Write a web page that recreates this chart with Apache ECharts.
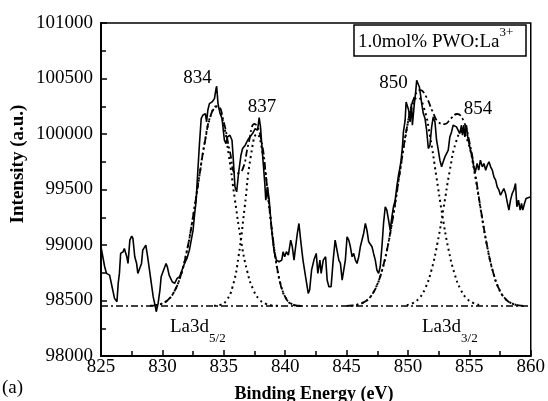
<!DOCTYPE html>
<html><head><meta charset="utf-8">
<script src="https://cdn.jsdelivr.net/npm/echarts@6/dist/echarts.min.js"></script>
<style>html,body{margin:0;padding:0;background:#fff}#c{width:548px;height:401px}</style>
</head><body><div id="c"></div><script>
// ---- data ----
const xTicks = [825, 830, 835, 840, 845, 850, 855, 860];
const yTicks = [98000, 98500, 99000, 99500, 100000, 100500, 101000];
const baselineEnergy = [825, 860];
const baselineIntensity = [98450, 98450];

const rawEnergy = [825.0,825.3,825.45,825.7,825.9,826.1,826.3,826.4,826.5,826.6,826.8,826.9,827.1,827.2,827.35,827.5,827.6,827.75,827.9,828.0,828.15,828.3,828.4,828.65,828.8,828.95,829.1,829.25,829.4,829.5,829.65,829.8,829.9,830.1,830.3,830.4,830.55,830.65,830.8,831.0,831.2,831.4,831.6,831.8,832.0,832.2,832.35,832.5,832.6,832.75,832.85,833.02,833.16,833.29,833.5,833.6,833.7,833.83,834.05,834.24,834.37,834.42,834.53,834.7,834.86,835.05,835.18,835.3,835.5,835.67,835.78,835.91,836.05,836.2,836.4,836.53,836.75,836.94,837.13,837.34,837.56,837.75,837.88,837.99,838.15,838.34,838.42,838.56,838.7,838.83,838.96,839.1,839.29,839.5,839.72,839.83,839.96,840.1,840.26,840.45,840.58,840.72,840.85,840.99,841.12,841.26,841.45,841.66,841.88,841.99,842.15,842.34,842.53,842.66,842.83,842.93,843.1,843.29,843.42,843.56,843.74,843.91,844.07,844.23,844.37,844.5,844.64,844.77,844.9,845.04,845.18,845.31,845.45,845.58,845.72,845.85,845.99,846.12,846.26,846.39,846.53,846.66,846.8,846.93,847.07,847.2,847.34,847.47,847.61,847.74,847.88,848.01,848.15,848.28,848.42,848.55,848.69,848.82,848.96,849.09,849.23,849.36,849.44,849.55,849.63,849.77,849.85,849.96,850.06,850.17,850.28,850.36,850.44,850.52,850.63,850.71,850.82,850.93,851.01,851.12,851.25,851.39,851.52,851.66,851.79,851.93,852.06,852.2,852.33,852.47,852.6,852.74,852.87,853.01,853.14,853.28,853.41,853.55,853.68,853.82,853.95,854.09,854.22,854.36,854.44,854.55,854.63,854.76,854.87,854.98,855.09,855.25,855.36,855.49,855.63,855.76,855.9,856.06,856.19,856.33,856.46,856.6,856.73,856.87,857.0,857.14,857.27,857.41,857.54,857.68,857.81,857.95,858.08,858.22,858.35,858.49,858.62,858.76,858.87,859.0,859.14,859.25,859.35,859.49,859.62,859.76,860.0];
const rawIntensity = [98984,98804,98744,98729,98624,98519,98489,98654,98744,98924,98939,98969,98894,98834,99044,99080,99059,98894,98834,98744,98744,98834,98954,98999,98894,98774,98654,98534,98459,98399,98474,98594,98714,98774,98834,98804,98729,98744,98669,98654,98699,98714,98774,98834,98879,98954,99044,99134,99254,99404,99600,99914,100139,100169,100184,100109,100214,100274,100289,100319,100409,100430,100274,100184,100139,99944,99914,99974,99989,99944,99764,99524,99479,99644,99809,99869,99899,99944,99974,100004,100049,100034,100148,100064,99824,99554,99404,99524,99404,99224,99074,98939,98864,98849,98864,98939,98894,98939,98909,99044,98984,98864,98984,99104,99194,99044,98864,98714,98564,98594,98774,98864,98924,98744,98864,98744,98864,98894,98684,98624,98624,98864,99044,99029,98864,98834,98684,98684,98864,99074,99044,98984,98894,98924,98864,98834,98894,98984,98984,99104,99194,99134,99029,99014,98984,98924,98864,98774,98744,98804,98984,99194,99344,99314,99224,99134,99254,99344,99404,99524,99629,99704,99764,99884,100019,100124,100289,100304,100214,100109,100274,100079,100094,100274,100379,100484,100499,100424,100364,100274,100184,100139,100034,99869,99899,100064,100154,100109,99944,99854,99764,99704,99749,99794,99809,99854,99974,100019,100079,100079,100064,100049,100004,100079,99989,100079,99974,100079,99974,99914,99854,99779,99704,99659,99734,99674,99764,99704,99734,99674,99719,99749,99704,99674,99614,99584,99524,99494,99449,99464,99509,99464,99389,99314,99404,99464,99494,99554,99344,99404,99314,99374,99314,99374,99419,99434,99434];

const peakAEnergy = [829.4,829.9,830.4,830.9,831.4,831.9,832.4,832.9,833.4,833.9,834.4,834.9,835.4,835.9,836.4,836.9,837.4,837.9,838.4,838.9,839.4];
const peakAIntensity = [98457,98470,98501,98568,98694,98899,99190,99542,99892,100153,100250,100129,99814,99413,99043,98767,98598,98510,98471,98456,98452];
const peakBEnergy = [834.2,834.7,835.2,835.7,836.2,836.7,837.2,837.7,838.2,838.7,839.2,839.7,840.2,840.7,841.2];
const peakBIntensity = [98452,98460,98498,98618,98894,99339,99799,100000,99799,99339,98894,98618,98498,98460,98452];
const peakCEnergy = [845.8,846.3,846.8,847.3,847.8,848.3,848.8,849.3,849.8,850.3,850.8,851.3,851.8,852.3,852.8,853.3,853.8,854.3,854.8,855.3,855.8];
const peakCIntensity = [98460,98478,98517,98597,98739,98962,99268,99627,99977,100235,100330,100235,99977,99627,99268,98962,98739,98597,98517,98478,98460];
const peakDEnergy = [849.9,850.4,850.9,851.4,851.9,852.4,852.9,853.4,853.9,854.4,854.9,855.4,855.9,856.4,856.9,857.4,857.9,858.4,858.9];
const peakDIntensity = [98459,98477,98519,98608,98769,99016,99334,99666,99923,100020,99923,99666,99334,99016,98769,98608,98519,98477,98459];
const env1Energy = [829,829.5,830,830.5,831,831.5,832,832.5,833,833.5,834,834.5,835,835.5,836,836.5,837,837.5,838,838.5,839,839.5,840,840.5,841,841.5];
const env1Intensity = [98453,98459,98474,98511,98588,98728,98950,99257,99614,99953,100188,100250,100106,99841,99645,99675,99906,100091,99973,99553,99061,98707,98532,98470,98454,98451];
const env2Energy = [845,845.5,846,846.5,847,847.5,848,848.5,849,849.5,850,850.5,851,851.5,852,852.5,853,853.5,854,854.5,855,855.5,856,856.5,857,857.5,858,858.5,859,859.5];
const env2Intensity = [98452,98455,98466,98490,98543,98645,98818,99075,99408,99776,100106,100327,100396,100332,100204,100105,100089,100140,100180,100125,99930,99622,99274,98962,98730,98585,98508,98472,98457,98452];

const peakLabels = ['834', '837', '850', '854'];
const legendText = '1.0mol% PWO:La';
const legendSup = '3+';

// ---- chart ----
const FONT = '"Liberation Serif", "Times New Roman", serif';
const chart = echarts.init(document.getElementById('c'), null, {renderer: 'canvas'});
function pairs(xs, ys) { return xs.map((x, i) => [x, ys[i]]); }
const dotted = [2, 3.5];
const dashDot = [7, 3, 2, 3];

function lineSeries(xs, ys, type, width, smooth, z) {
  return {
    type: 'line', data: pairs(xs, ys), symbol: 'none', smooth: smooth, silent: true, z: z,
    lineStyle: {color: '#000', width: width, type: type}
  };
}

const axisCommon = {
  type: 'value',
  axisLine: {show: true, lineStyle: {color: '#000', width: 2}},
  axisTick: {show: true, inside: true, length: 6, lineStyle: {color: '#000', width: 1.5}},
  minorTick: {show: true, splitNumber: 2, length: 5, lineStyle: {color: '#000', width: 1.5}},
  splitLine: {show: false},
  minorSplitLine: {show: false}
};

chart.setOption({
  animation: false,
  backgroundColor: '#fff',
  grid: {left: 101, right: 15, top: 23, bottom: 45, show: true, borderColor: '#000', borderWidth: 1.5, backgroundColor: 'transparent'},
  xAxis: Object.assign({}, axisCommon, {
    min: xTicks[0], max: xTicks[xTicks.length - 1], interval: xTicks[1] - xTicks[0],
    axisLabel: {color: '#000', fontFamily: FONT, fontSize: 19, margin: 2, formatter: v => String(v)}
  }),
  yAxis: Object.assign({}, axisCommon, {
    min: yTicks[0], max: yTicks[yTicks.length - 1], interval: yTicks[1] - yTicks[0],
    axisLabel: {color: '#000', fontFamily: FONT, fontSize: 19, margin: 8, formatter: v => String(v)}
  }),
  series: [
    lineSeries(baselineEnergy, baselineIntensity, dashDot, 1.5, false, 2),
    lineSeries(peakAEnergy, peakAIntensity, dotted, 2, true, 3),
    lineSeries(peakBEnergy, peakBIntensity, dotted, 2, true, 3),
    lineSeries(peakCEnergy, peakCIntensity, dotted, 2, true, 3),
    lineSeries(peakDEnergy, peakDIntensity, dotted, 2, true, 3),
    lineSeries(env1Energy, env1Intensity, dashDot, 1.8, true, 4),
    lineSeries(env2Energy, env2Intensity, dashDot, 1.8, true, 4),
    lineSeries(rawEnergy, rawIntensity, 'solid', 1.6, false, 5)
  ]
});

// ---- annotations ----
const ctx = document.createElement('canvas').getContext('2d');
ctx.font = '19px ' + FONT;
const legendW = ctx.measureText(legendText).width;
const laW = ctx.measureText('La3d').width;

const labelAnchors = [[832.86, 100502], [838.12, 100241], [848.82, 100457], [855.7, 100223]];
const graphics = [];
peakLabels.forEach((t, i) => {
  const p = chart.convertToPixel({gridIndex: 0}, labelAnchors[i]);
  graphics.push({type: 'text', x: p[0], y: p[1], style: {text: t, font: '19px ' + FONT, fill: '#000', textAlign: 'center', textVerticalAlign: 'middle'}});
});
function txt(x, y, text, size, opts) {
  return {type: 'text', x: x, y: y, rotation: (opts && opts.rot) || 0,
    style: {text: text, font: ((opts && opts.bold) ? 'bold ' : '') + size + 'px ' + FONT, fill: '#000',
      textAlign: (opts && opts.align) || 'left', textVerticalAlign: 'middle'}};
}
graphics.push(txt(170, 327, 'La3d', 19));
graphics.push(txt(170 + laW, 339, '5/2', 13));
graphics.push(txt(422, 327, 'La3d', 19));
graphics.push(txt(422 + laW, 339, '3/2', 13));
graphics.push({type: 'rect', shape: {x: 354, y: 25, width: 172, height: 31}, style: {fill: '#fff', stroke: '#000', lineWidth: 1.5}, z: 10});
graphics.push(Object.assign(txt(358, 42, legendText, 19), {z: 11}));
graphics.push(Object.assign(txt(358 + legendW, 33, legendSup, 13), {z: 11}));
graphics.push(txt(314, 394, 'Binding Energy (eV)', 18, {bold: true, align: 'center'}));
graphics.push(txt(18, 164, 'Intensity (a.u.)', 19, {bold: true, align: 'center', rot: Math.PI / 2}));
graphics.push(txt(2, 388, '(a)', 19));
chart.setOption({graphic: graphics});
</script></body></html>
